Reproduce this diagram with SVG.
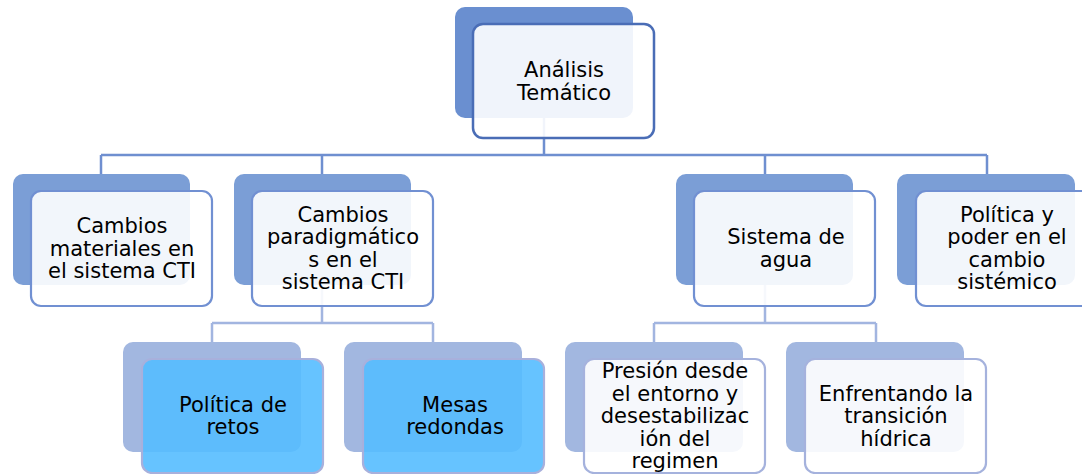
<svg xmlns="http://www.w3.org/2000/svg" width="1082" height="474" viewBox="0 0 1082 474">
<style>
  text { font-family: "DejaVu Sans", "Liberation Sans", sans-serif; font-size: 21px; fill: #000; text-anchor: middle; }
  .back0 { fill: #6A8FD0; }
  .back1 { fill: #7B9ED6; }
  .back2 { fill: #A2B7E0; }
  .front0 { fill: #FFFFFF; fill-opacity: 0.9; stroke: #4A6DB6; stroke-width: 2.5; }
  .front1 { fill: #FFFFFF; fill-opacity: 0.9; stroke: #7190D2; stroke-width: 2.2; }
  .front2w { fill: #FFFFFF; fill-opacity: 0.9; stroke: #A5B2DD; stroke-width: 2.2; }
  .front2b { fill: #55BCFF; fill-opacity: 0.9; stroke: #A8B0DC; stroke-width: 2.2; }
  .c1 { fill: none; stroke: #6F8FD0; stroke-width: 2.5; }
  .c2 { fill: none; stroke: #A2B5E0; stroke-width: 2.5; }
</style>
<rect width="1082" height="474" fill="#FFFFFF"/>
<g id="connectors">
  <path class="c1" d="M544 118 V155 M101 155 H987 M101 155 V174 M322 155 V174 M765 155 V174 M987 155 V174"/>
  <path class="c2" d="M322 285 V323 M212 323 H433 M212 323 V342 M433 323 V342"/>
  <path class="c2" d="M765 285 V323 M654 323 H876 M654 323 V342 M876 323 V342"/>
</g>
<g id="analisis">
  <rect class="back0" x="455" y="7" width="178" height="111" rx="10"/>
  <rect class="front0" x="473" y="24" width="181" height="114" rx="10"/>
  <text x="564" y="77">Análisis</text>
  <text x="564" y="100">Temático</text>
</g>
<g id="cambios-materiales">
  <rect class="back1" x="13" y="174" width="177" height="111" rx="10"/>
  <rect class="front1" x="31" y="191" width="181" height="115" rx="10"/>
  <text x="122" y="233">Cambios</text>
  <text x="122" y="256">materiales en</text>
  <text x="122" y="278">el sistema CTI</text>
</g>
<g id="cambios-paradigmaticos">
  <rect class="back1" x="234" y="174" width="177" height="111" rx="10"/>
  <rect class="front1" x="252" y="191" width="181" height="115" rx="10"/>
  <text x="343" y="222">Cambios</text>
  <text x="343" y="244">paradigmático</text>
  <text x="343" y="267">s en el</text>
  <text x="343" y="289">sistema CTI</text>
</g>
<g id="sistema-agua">
  <rect class="back1" x="676" y="174" width="177" height="111" rx="10"/>
  <rect class="front1" x="694" y="191" width="181" height="115" rx="10"/>
  <text x="786" y="244">Sistema de</text>
  <text x="786" y="267">agua</text>
</g>
<g id="politica-poder">
  <rect class="back1" x="897" y="174" width="178" height="111" rx="10"/>
  <rect class="front1" x="916" y="191" width="181" height="115" rx="10"/>
  <text x="1007" y="222">Política y</text>
  <text x="1007" y="244">poder en el</text>
  <text x="1007" y="267">cambio</text>
  <text x="1007" y="289">sistémico</text>
</g>
<g id="politica-retos">
  <rect class="back2" x="123" y="342" width="178" height="110" rx="10"/>
  <rect class="front2b" x="142" y="359" width="181" height="114" rx="10"/>
  <text x="233" y="412">Política de</text>
  <text x="233" y="434">retos</text>
</g>
<g id="mesas-redondas">
  <rect class="back2" x="344" y="342" width="178" height="110" rx="10"/>
  <rect class="front2b" x="363" y="359" width="181" height="114" rx="10"/>
  <text x="455" y="412">Mesas</text>
  <text x="455" y="434">redondas</text>
</g>
<g id="presion-entorno">
  <rect class="back2" x="565" y="342" width="178" height="110" rx="10"/>
  <rect class="front2w" x="584" y="359" width="181" height="114" rx="10"/>
  <text x="675" y="378">Presión desde</text>
  <text x="675" y="401">el entorno y</text>
  <text x="675" y="423">desestabilizac</text>
  <text x="675" y="446">ión del</text>
  <text x="675" y="468">regimen</text>
</g>
<g id="transicion-hidrica">
  <rect class="back2" x="786" y="342" width="178" height="110" rx="10"/>
  <rect class="front2w" x="805" y="359" width="181" height="114" rx="10"/>
  <text x="896" y="401">Enfrentando la</text>
  <text x="896" y="423">transición</text>
  <text x="896" y="446">hídrica</text>
</g>
</svg>
